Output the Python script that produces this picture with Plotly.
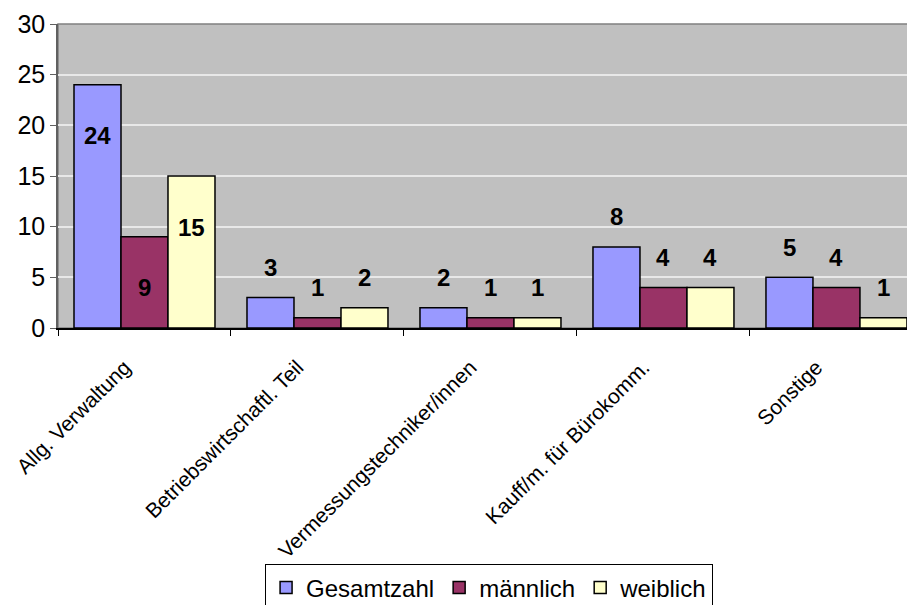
import plotly.graph_objects as go

categories = ["Allg. Verwaltung", "Betriebswirtschaftl. Teil", "Vermessungstechniker/innen",
              "Kauff/m. für Bürokomm.", "Sonstige"]
gesamt = [24, 3, 2, 8, 5]
maennlich = [9, 1, 1, 4, 4]
weiblich = [15, 2, 1, 4, 1]

SERIES = [("Gesamtzahl", gesamt, "#9999FF"),
          ("männlich", maennlich, "#993366"),
          ("weiblich", weiblich, "#FFFFCC")]

FONT = "Liberation Sans, Arial, sans-serif"
BARGAP = 0.185
BAR_W = (1 - BARGAP) / 3

fig = go.Figure()
for name, vals, color in SERIES:
    fig.add_trace(go.Bar(x=categories, y=vals, name=name, marker_color=color,
                         marker_line=dict(color="black", width=1.5)))

# value labels: inside for tall bars, above for short ones
for j, (name, vals, color) in enumerate(SERIES):
    for i, v in enumerate(vals):
        inside = v >= 9
        fig.add_annotation(x=i + (j - 1) * BAR_W, y=v, xref="x", yref="y",
                           text=f"<b>{v}</b>", showarrow=False, yanchor="middle",
                           yshift=-51 if inside else 30,
                           font=dict(family=FONT, size=24, color="black"))

fig.add_shape(type="rect", xref="paper", yref="paper", x0=0, x1=1, y0=0, y1=1,
              line=dict(color="#808080", width=1.5), layer="below")

# page has an 8px body margin, so the figure is sized to fit the window
fig.update_layout(
    width=907, height=597,
    margin=dict(l=50, r=0, t=16, b=277),
    barmode="group", bargap=BARGAP, bargroupgap=0,
    plot_bgcolor="#C0C0C0", paper_bgcolor="white",
    font=dict(family=FONT, size=20, color="black"),
    showlegend=True,
    legend=dict(orientation="h", x=0.503, xanchor="center",
                yref="container", y=0.068, yanchor="top",
                bordercolor="black", borderwidth=1, font=dict(size=24),
                itemwidth=30, tracegroupgap=0),
)
fig.update_yaxes(range=[0, 30], dtick=5, showgrid=True, gridcolor="#E8E8E8", gridwidth=1.5,
                 showline=True, linecolor="#606060", linewidth=1.5,
                 ticks="outside", ticklen=6, tickcolor="#606060",
                 tickfont=dict(size=25), zeroline=False, automargin=False)
fig.update_xaxes(range=[-0.5, 4.454], tickangle=-45, tickfont=dict(size=21),
                 showline=True, linecolor="black", linewidth=1.5,
                 ticks="outside", tickson="boundaries", ticklen=6, tickcolor="black",
                 ticklabelshift=-20, ticklabelstandoff=17, automargin=False)

fig.write_html("out.html")
